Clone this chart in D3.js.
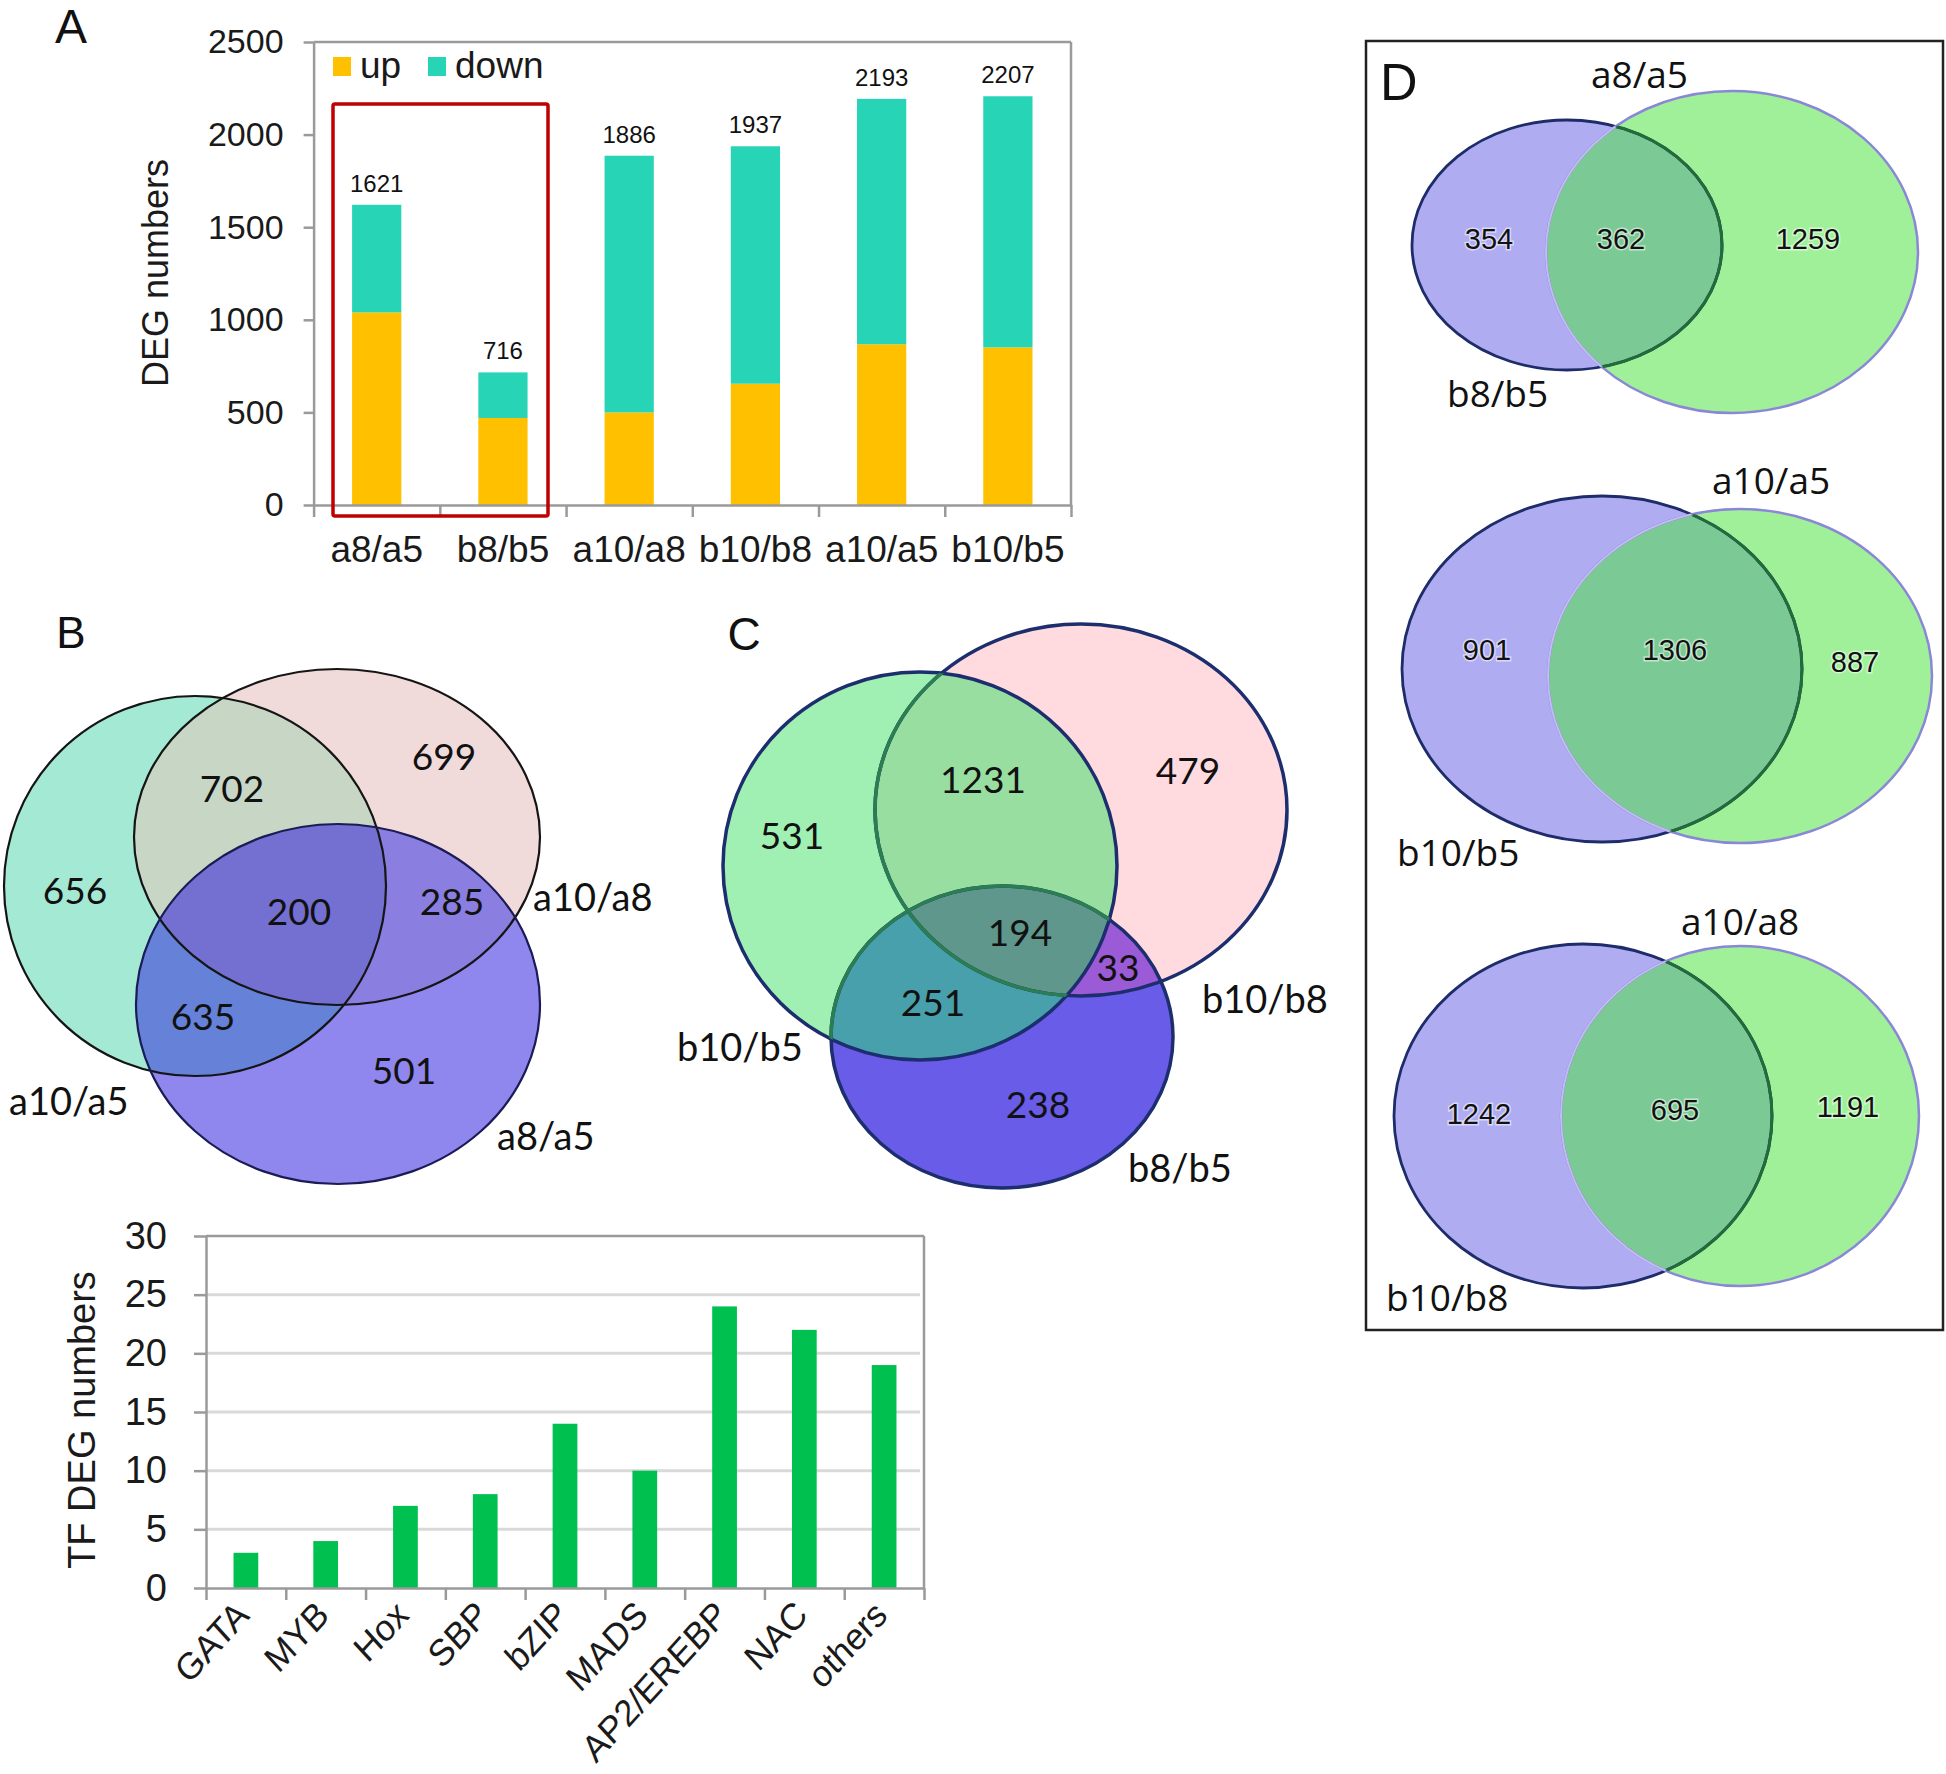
<!DOCTYPE html>
<html><head><meta charset="utf-8">
<script src="https://cdn.jsdelivr.net/npm/d3@7"></script>
<style>body{margin:0;background:#fff} svg{display:block}</style>
</head><body>
<svg id="fig" width="1946" height="1774"></svg>
<script>
// ---------------- DATA ----------------
const degCategories = ["a8/a5","b8/b5","a10/a8","b10/b8","a10/a5","b10/b5"];
const degUp   = [1040, 470, 500, 655, 868, 851];
const degDown = [581, 246, 1386, 1282, 1325, 1356];
const degTotal = [1621, 716, 1886, 1937, 2193, 2207];
const degSeries = ["up","down"];
const degTicks = [0,500,1000,1500,2000,2500];

const tfCategories = ["GATA","MYB","Hox","SBP","bZIP","MADS","AP2/EREBP","NAC","others"];
const tfValues = [3,4,7,8,14,10,24,22,19];
const tfTicks = [0,5,10,15,20,25,30];

// Venn B: sets, region counts [only0, only1, only2, 0&1, 0&2, 1&2, all]
const vennBSets = ["a10/a5","a10/a8","a8/a5"];
const vennBCounts = [656, 699, 501, 702, 635, 285, 200];
// Venn C
const vennCSets = ["b10/b5","b10/b8","b8/b5"];
const vennCCounts = [531, 479, 238, 1231, 251, 33, 194];
// Venn D: pairs [left set, right set], counts [left only, both, right only]
const vennDPairs = [["b8/b5","a8/a5"],["b10/b5","a10/a5"],["b10/b8","a10/a8"]];
const vennDCounts = [[354,362,1259],[901,1306,887],[1242,695,1191]];

// ---------------- STYLE / LAYOUT ----------------
const FA = "'Liberation Sans', Arial, sans-serif";
const FC = "Lato, 'Open Sans', sans-serif";
const FD = "'Open Sans', Lato, sans-serif";
const svg = d3.select("#fig");
const defs = svg.append("defs");
const axisGray = "#9a9a9a";

function styleAxis(g, fs){
  g.select(".domain").attr("stroke", axisGray).attr("stroke-width", 2.5);
  g.selectAll(".tick line").attr("stroke", axisGray).attr("stroke-width", 2.5);
  g.selectAll(".tick text").attr("font-family", FA).attr("font-size", fs).attr("fill", "#1a1a1a");
}
function letter(t, x, y, fs, anchor){
  svg.append("text").text(t).attr("x", x).attr("y", y).attr("font-family", FA)
    .attr("font-size", fs).attr("text-anchor", anchor || "middle").attr("fill", "#111");
}

// ---------------- PANEL A ----------------
const A = {left:313.6, right:1071, top:42, bottom:505};
const xA = d3.scaleBand().domain(degCategories).range([A.left, A.right]).paddingInner(0.61).paddingOuter(0.305);
const yA = d3.scaleLinear().domain([0, 2500]).range([A.bottom, A.top]);
const colA = d3.scaleOrdinal().domain(degSeries).range(["#ffc000", "#27d4b6"]);
const tableA = degCategories.map((c, i) => ({cat: c, up: degUp[i], down: degDown[i], total: degTotal[i]}));
const stackA = d3.stack().keys(degSeries)(tableA);
const gA = svg.append("g");

// frame
gA.append("line").attr("x1", A.left).attr("x2", A.right).attr("y1", A.top).attr("y2", A.top).attr("stroke", axisGray).attr("stroke-width", 2.5);
gA.append("line").attr("x1", A.right).attr("x2", A.right).attr("y1", A.top).attr("y2", A.bottom).attr("stroke", axisGray).attr("stroke-width", 2.5);

gA.append("g").selectAll("g").data(stackA).join("g").attr("fill", d => colA(d.key))
  .selectAll("rect").data(d => d).join("rect")
  .attr("x", d => xA(d.data.cat)).attr("width", xA.bandwidth())
  .attr("y", d => yA(d[1])).attr("height", d => yA(d[0]) - yA(d[1]));

gA.append("g").attr("transform", `translate(${A.left},0)`)
  .call(d3.axisLeft(yA).tickValues(degTicks).tickFormat(d3.format("d")).tickSize(10).tickSizeOuter(0).tickPadding(20))
  .call(g => styleAxis(g, 34));
const xAb = d3.scaleLinear().domain([0, degCategories.length]).range([A.left, A.right]);
gA.append("g").attr("transform", `translate(0,${A.bottom})`)
  .call(d3.axisBottom(xAb).tickValues(d3.range(degCategories.length + 1)).tickSize(12).tickSizeOuter(0).tickFormat(""))
  .call(g => styleAxis(g, 34));
gA.append("g").attr("transform", `translate(0,${A.bottom})`)
  .call(d3.axisBottom(xA).tickSize(0).tickPadding(31))
  .call(g => { g.select(".domain").remove(); g.selectAll("text").attr("font-family", FA).attr("font-size", 37).attr("fill", "#1a1a1a"); });

gA.append("g").selectAll("text").data(tableA).join("text")
  .attr("x", d => xA(d.cat) + xA.bandwidth() / 2).attr("y", d => yA(d.total) - 13)
  .attr("text-anchor", "middle").attr("font-family", FA).attr("font-size", 24).attr("fill", "#111")
  .text(d => d.total);

gA.append("text").text("DEG numbers").attr("transform", "translate(155,273) rotate(-90)")
  .attr("text-anchor", "middle").attr("dominant-baseline", "central")
  .attr("font-family", FA).attr("font-size", 36).attr("fill", "#1a1a1a");

// legend
const legA = gA.append("g");
const legX = [333, 428];
legA.selectAll("rect").data(degSeries).join("rect")
  .attr("x", (d, i) => legX[i]).attr("y", 57).attr("width", 18).attr("height", 19).attr("fill", d => colA(d));
legA.selectAll("text").data(degSeries).join("text")
  .attr("x", (d, i) => legX[i] + 27).attr("y", 78).text(d => d)
  .attr("font-family", FA).attr("font-size", 37).attr("fill", "#1a1a1a");

// red highlight box
gA.append("rect").attr("x", 333).attr("y", 104).attr("width", 215).attr("height", 412).attr("rx", 2)
  .attr("fill", "none").attr("stroke", "#c00000").attr("stroke-width", 3.5);

letter("A", 71, 43, 48);

// ---------------- PANEL TF bars ----------------
const T = {left:206, right:924, top:1236, bottom:1588};
const xT = d3.scaleBand().domain(tfCategories).range([T.left, T.right]).paddingInner(0.69).paddingOuter(0.345);
const yT = d3.scaleLinear().domain([0, 30]).range([T.bottom, T.top]);
const gT = svg.append("g");
gT.append("g").selectAll("line").data(tfTicks.filter(t => t > 0 && t < 30)).join("line")
  .attr("x1", T.left).attr("x2", T.right - 4).attr("y1", d => yT(d)).attr("y2", d => yT(d))
  .attr("stroke", "#d9d9d9").attr("stroke-width", 3);
gT.append("line").attr("x1", T.left).attr("x2", T.right).attr("y1", T.top).attr("y2", T.top).attr("stroke", axisGray).attr("stroke-width", 2.5);
gT.append("line").attr("x1", T.right).attr("x2", T.right).attr("y1", T.top).attr("y2", T.bottom).attr("stroke", axisGray).attr("stroke-width", 2.5);
gT.append("g").selectAll("rect").data(tfCategories).join("rect")
  .attr("x", d => xT(d)).attr("width", xT.bandwidth())
  .attr("y", (d, i) => yT(tfValues[i])).attr("height", (d, i) => yT(0) - yT(tfValues[i]))
  .attr("fill", "#00c050");
gT.append("g").attr("transform", `translate(${T.left},0)`)
  .call(d3.axisLeft(yT).tickValues(tfTicks).tickSize(12).tickSizeOuter(0).tickPadding(27))
  .call(g => styleAxis(g, 38));
const xTb = d3.scaleLinear().domain([0, tfCategories.length]).range([T.left, T.right]);
gT.append("g").attr("transform", `translate(0,${T.bottom})`)
  .call(d3.axisBottom(xTb).tickValues(d3.range(tfCategories.length + 1)).tickSize(12).tickSizeOuter(0).tickFormat(""))
  .call(g => styleAxis(g, 34));
gT.append("g").selectAll("text").data(tfCategories).join("text")
  .attr("transform", d => `translate(${xT(d) + xT.bandwidth() / 2 + 5},1617) scale(1,1.1) rotate(-45)`)
  .attr("text-anchor", "end").attr("font-family", FA).attr("font-size", 34).attr("fill", "#1a1a1a")
  .text(d => d);
gT.append("text").text("TF DEG numbers").attr("transform", "translate(82,1420) rotate(-90)")
  .attr("text-anchor", "middle").attr("dominant-baseline", "central")
  .attr("font-family", FA).attr("font-size", 38).attr("fill", "#1a1a1a");

// ---------------- VENN helpers ----------------
function addClip(id, e){
  defs.append("clipPath").attr("id", id).append("ellipse")
    .attr("cx", e.cx).attr("cy", e.cy).attr("rx", e.rx).attr("ry", e.ry);
}
function ell(g, e){
  return g.append("ellipse").attr("cx", e.cx).attr("cy", e.cy).attr("rx", e.rx).attr("ry", e.ry);
}
function venn3(id, E, col){
  const g = svg.append("g");
  E.forEach((e, i) => addClip(id + i, e));
  E.forEach((e, i) => ell(g, e).attr("fill", col.solo[i]));
  [[0,1],[0,2],[1,2]].forEach(([i,j], k) => {
    ell(g.append("g").attr("clip-path", `url(#${id}${i})`), E[j]).attr("fill", col.pair[k]);
  });
  ell(g.append("g").attr("clip-path", `url(#${id}0)`).append("g").attr("clip-path", `url(#${id}1)`), E[2]).attr("fill", col.all);
  return g;
}

// ---------------- PANEL B ----------------
const EB = [
  {cx:195, cy:886, rx:191, ry:190},
  {cx:337, cy:837, rx:203, ry:168},
  {cx:338, cy:1004, rx:202, ry:180}
];
const gB = venn3("vb", EB, {
  solo: ["#a4e9d4", "#f0dada", "#8f86ee"],
  pair: ["#c8d6c6", "#6681d8", "#8a7fe0"],
  all: "#7470d2"
});
EB.forEach((e, i) => ell(gB, e).attr("fill", "none").attr("stroke", i === 2 ? "#1b1b55" : "#151515").attr("stroke-width", 2.2));
const posB = [[75,891],[444,757],[404,1071],[232,789],[203,1017],[452,902],[299,912]];
gB.selectAll("text.n").data(vennBCounts).join("text").attr("class", "n")
  .attr("x", (d, i) => posB[i][0]).attr("y", (d, i) => posB[i][1]).attr("dy", "0.36em")
  .attr("text-anchor", "middle").attr("font-family", FC).attr("font-size", 37).attr("fill", "#111").text(d => d);
const setPosB = [[9,1101],[533,897],[497,1136]];
gB.selectAll("text.s").data(vennBSets).join("text").attr("class", "s")
  .attr("x", (d, i) => setPosB[i][0]).attr("y", (d, i) => setPosB[i][1]).attr("dy", "0.36em")
  .attr("font-family", FC).attr("font-size", 38).attr("fill", "#111").text(d => d);
letter("B", 71, 648, 44);

// ---------------- PANEL C ----------------
const EC = [
  {cx:920, cy:866, rx:197, ry:194},
  {cx:1081, cy:810, rx:206, ry:186},
  {cx:1002, cy:1037, rx:171, ry:151}
];
const gC = venn3("vc", EC, {
  solo: ["#9ff0b2", "#ffdadf", "#685ce8"],
  pair: ["#99dea1", "#47a0ab", "#9b5ad6"],
  all: "#5f978d"
});
EC.forEach(e => ell(gC, e).attr("fill", "none").attr("stroke", "#1c2e6e").attr("stroke-width", 3.5));
[1, 2].forEach(i => ell(gC.append("g").attr("clip-path", "url(#vc0)"), EC[i]).attr("fill", "none").attr("stroke", "#2b7d52").attr("stroke-width", 3.5));
const posC = [[792,836],[1188,771],[1038,1105],[983,780],[933,1003],[1118,968],[1020,933]];
gC.selectAll("text.n").data(vennCCounts).join("text").attr("class", "n")
  .attr("x", (d, i) => posC[i][0]).attr("y", (d, i) => posC[i][1]).attr("dy", "0.36em")
  .attr("text-anchor", "middle").attr("font-family", FC).attr("font-size", 37).attr("fill", "#111").text(d => d);
const setPosC = [[677,1047],[1202,999],[1128,1168]];
gC.selectAll("text.s").data(vennCSets).join("text").attr("class", "s")
  .attr("x", (d, i) => setPosC[i][0]).attr("y", (d, i) => setPosC[i][1]).attr("dy", "0.36em")
  .attr("font-family", FC).attr("font-size", 38).attr("fill", "#111").text(d => d);
letter("C", 744, 650, 46);

// ---------------- PANEL D ----------------
svg.append("rect").attr("x", 1366).attr("y", 41).attr("width", 577).attr("height", 1289)
  .attr("fill", "none").attr("stroke", "#222").attr("stroke-width", 2.5);
letter("D", 1380, 100, 52, "start");
const ED = [
  [{cx:1567, cy:245, rx:155, ry:125}, {cx:1732, cy:252, rx:186, ry:161}],
  [{cx:1602, cy:669, rx:200, ry:173}, {cx:1740, cy:676, rx:192, ry:167}],
  [{cx:1583, cy:1116, rx:189, ry:172}, {cx:1740, cy:1116, rx:179, ry:170}]
];
const posD = [
  [[1489,239],[1621,239],[1808,239]],
  [[1487,650],[1675,650],[1855,662]],
  [[1479,1114],[1675,1110],[1848,1107]]
];
const setPosD = [
  [[1447,394],[1591,75]],
  [[1397,853],[1712,481]],
  [[1386,1298],[1681,922]]
];
ED.forEach((pair, k) => {
  const id = "vd" + k;
  const g = svg.append("g");
  pair.forEach((e, i) => addClip(id + i, e));
  ell(g, pair[0]).attr("fill", "#b0acf2");
  ell(g, pair[1]).attr("fill", "#a0f09a");
  ell(g.append("g").attr("clip-path", `url(#${id}0)`), pair[1]).attr("fill", "#7bc994");
  ell(g, pair[0]).attr("fill", "none").attr("stroke", "#1e2d6a").attr("stroke-width", 2.8);
  ell(g, pair[1]).attr("fill", "none").attr("stroke", "#8a88d6").attr("stroke-width", 2.5);
  ell(g.append("g").attr("clip-path", `url(#${id}1)`), pair[0]).attr("fill", "none").attr("stroke", "#236b3a").attr("stroke-width", 3);
  ell(g.append("g").attr("clip-path", `url(#${id}0)`), pair[1]).attr("fill", "none").attr("stroke", "#c2bbf4").attr("stroke-width", 2);
  g.selectAll("text.n").data(vennDCounts[k]).join("text").attr("class", "n")
    .attr("x", (d, i) => posD[k][i][0]).attr("y", (d, i) => posD[k][i][1]).attr("dy", "0.36em")
    .attr("text-anchor", "middle").attr("font-family", FA).attr("font-size", 29).attr("fill", "#111")
    .attr("stroke", "rgba(255,255,255,0.55)").attr("stroke-width", 3).attr("paint-order", "stroke")
    .text(d => d);
  g.selectAll("text.s").data(vennDPairs[k]).join("text").attr("class", "s")
    .attr("x", (d, i) => setPosD[k][i][0]).attr("y", (d, i) => setPosD[k][i][1]).attr("dy", "0.36em")
    .attr("font-family", FD).attr("font-size", 37).attr("fill", "#111").text(d => d);
});
</script>
</body></html>
